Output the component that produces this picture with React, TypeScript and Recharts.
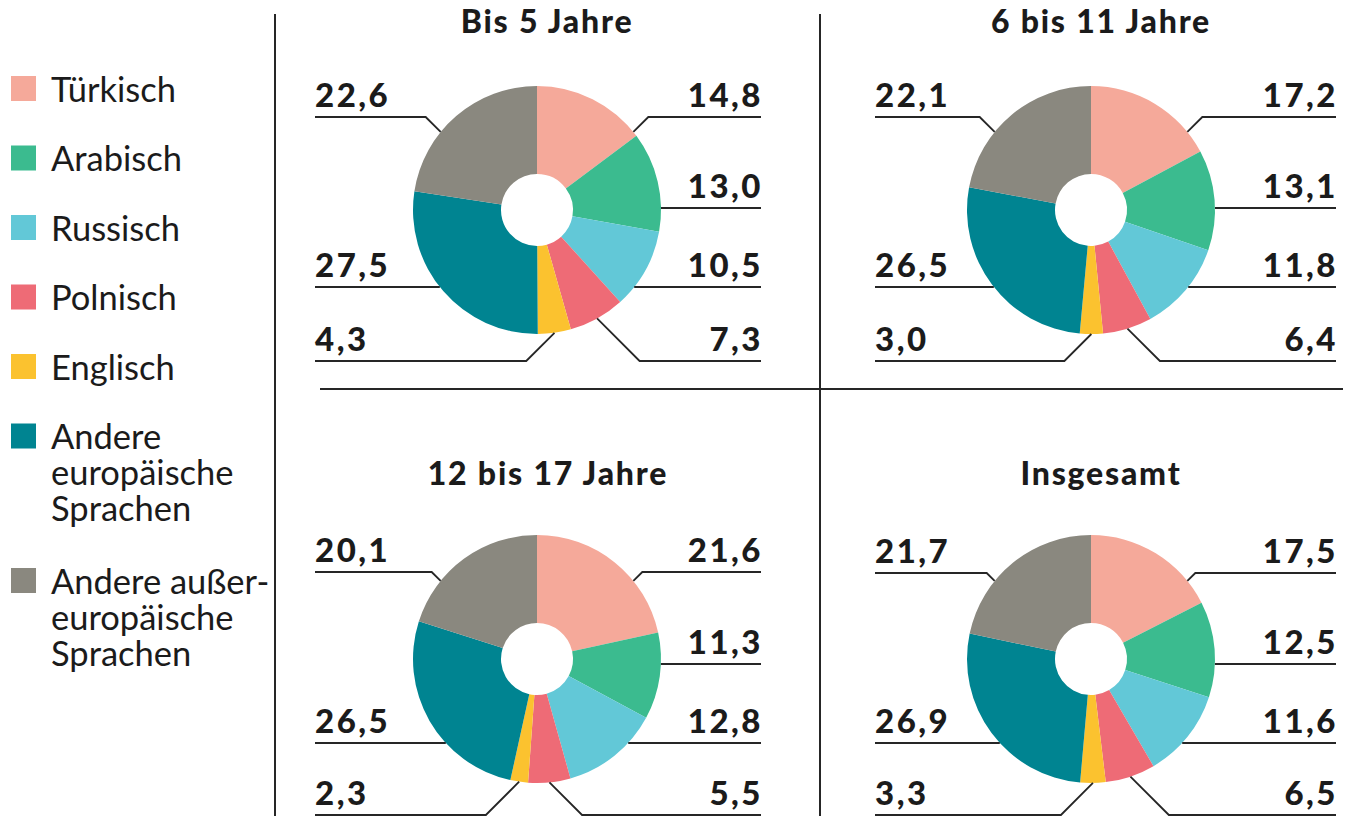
import React from 'react';
import { PieChart, Pie, Cell } from 'recharts';

// ---------- data ----------
const categories = [
  'Türkisch',
  'Arabisch',
  'Russisch',
  'Polnisch',
  'Englisch',
  'Andere europäische Sprachen',
  'Andere außereuropäische Sprachen',
];
const legendLines = [
  ['Türkisch'],
  ['Arabisch'],
  ['Russisch'],
  ['Polnisch'],
  ['Englisch'],
  ['Andere', 'europäische', 'Sprachen'],
  ['Andere außer-', 'europäische', 'Sprachen'],
];
const colors = ['#F5A99A', '#3BBB8F', '#62C8D7', '#EE6B76', '#FBC22F', '#008491', '#8A887F'];

const panelTitles = ['Bis 5 Jahre', '6 bis 11 Jahre', '12 bis 17 Jahre', 'Insgesamt'];
const valuesBis5 = [14.8, 13.0, 10.5, 7.3, 4.3, 27.5, 22.6];
const values6bis11 = [17.2, 13.1, 11.8, 6.4, 3.0, 26.5, 22.1];
const values12bis17 = [21.6, 11.3, 12.8, 5.5, 2.3, 26.5, 20.1];
const valuesGesamt = [17.5, 12.5, 11.6, 6.5, 3.3, 26.9, 21.7];
const panelValues = [valuesBis5, values6bis11, values12bis17, valuesGesamt];

// label slots per category: side and row
const slotSide = ['right', 'right', 'right', 'right', 'left', 'left', 'left'];
const slotRow = [0, 1, 2, 3, 3, 2, 0];

// ---------- layout ----------
const W = 1348;
const H = 816;
const R = 124;
const R_IN = 36;
const panels = [
  { cx: 537, cy: 210, rows: [117, 208, 287, 361], leftX: 315, rightX: 761, titleX: 547, titleY: 33 },
  { cx: 1091, cy: 210, rows: [117, 208, 287, 361], leftX: 875, rightX: 1336, titleX: 1101, titleY: 33 },
  { cx: 537, cy: 659, rows: [572, 664, 743, 815], leftX: 315, rightX: 761, titleX: 548, titleY: 485 },
  { cx: 1091, cy: 659, rows: [573, 664, 743, 815], leftX: 875, rightX: 1336, titleX: 1101, titleY: 485 },
];
const RAD = Math.PI / 180;
const TXT = '#1b1b1b';
const LINE = '#262626';
const FONT = 'Lato, "Noto Sans", sans-serif';

const fmt = (v: number) => v.toFixed(1).replace('.', ',');

function makeLabel(p: typeof panels[number]) {
  return (props: any) => {
    const idx: number = props.index;
    const value: number = props.value;
    const mid: number = props.midAngle;
    const side = slotSide[idx];
    const row = slotRow[idx];
    const y = p.rows[row];
    const sgn = side === 'right' ? 1 : -1;
    const colX = side === 'right' ? p.rightX : p.leftX;
    let pts: [number, number][] = [];
    if (row === 1 || row === 2) {
      const dy = y - p.cy;
      const ex = p.cx + sgn * Math.sqrt(Math.max(0, R * R - dy * dy));
      pts = [[colX, y], [ex, y]];
    } else if (row === 0) {
      const th = 51 * RAD;
      const px = p.cx + sgn * R * Math.sin(th);
      const py = p.cy - R * Math.cos(th);
      const d = py - y;
      pts = [[colX, y], [px + sgn * d, y], [px, py]];
    } else {
      const px = p.cx + R * Math.cos(-mid * RAD);
      const py = p.cy + R * Math.sin(-mid * RAD);
      const d = y - py;
      pts = [[colX, y], [px + sgn * d, y], [px, py]];
    }
    return (
      <g key={`lbl-${idx}`}>
        <polyline
          points={pts.map((q) => q.join(',')).join(' ')}
          fill="none"
          stroke={LINE}
          strokeWidth={1.8}
        />
        <text
          x={side === 'right' ? colX + 2 : colX}
          y={y - 10.5}
          textAnchor={side === 'right' ? 'end' : 'start'}
          fontFamily={FONT}
          fontWeight={900}
          fontSize={33}
          letterSpacing={2.5}
          fill={TXT}
        >
          {fmt(value)}
        </text>
      </g>
    );
  };
}

function Legend() {
  let y = 76;
  const items = categories.map((c, i) => {
    const top = y;
    y += 69.5 + (legendLines[i].length - 1) * 37.5;
    return (
      <g key={c}>
        <rect x={11} y={top} width={25} height={25} fill={colors[i]} />
        {legendLines[i].map((ln, j) => (
          <text
            key={j}
            x={51}
            y={top + 25.5 + j * 36}
            fontFamily={FONT}
            fontSize={34.5}
            fill={TXT}
          >
            {ln}
          </text>
        ))}
      </g>
    );
  });
  return <g>{items}</g>;
}

export default function App() {
  return (
    <div style={{ position: 'absolute', left: 0, top: 0, width: W, height: H, background: '#fff' }}>
      <PieChart width={W} height={H} margin={{ top: 0, right: 0, bottom: 0, left: 0 }}>
        {panels.map((p, k) => (
          <Pie
            key={panelTitles[k]}
            data={panelValues[k].map((v, i) => ({ name: categories[i], value: v }))}
            dataKey="value"
            nameKey="name"
            cx={p.cx}
            cy={p.cy}
            outerRadius={R}
            innerRadius={R_IN}
            startAngle={90}
            endAngle={-270}
            stroke="none"
            isAnimationActive={false}
            label={makeLabel(p)}
            labelLine={false}
          >
            {panelValues[k].map((_, i) => (
              <Cell key={i} fill={colors[i]} />
            ))}
          </Pie>
        ))}
        <g>
          <line x1={275} y1={14} x2={275} y2={H} stroke={LINE} strokeWidth={2} />
          <line x1={820} y1={14} x2={820} y2={H} stroke={LINE} strokeWidth={2} />
          <line x1={320} y1={389} x2={1343} y2={389} stroke={LINE} strokeWidth={2} />
          {panels.map((p, k) => (
            <text
              key={k}
              x={p.titleX}
              y={p.titleY}
              textAnchor="middle"
              fontFamily={FONT}
              fontWeight={900}
              fontSize={32}
              letterSpacing={1.8}
              fill={TXT}
            >
              {panelTitles[k]}
            </text>
          ))}
          <Legend />
        </g>
      </PieChart>
    </div>
  );
}
